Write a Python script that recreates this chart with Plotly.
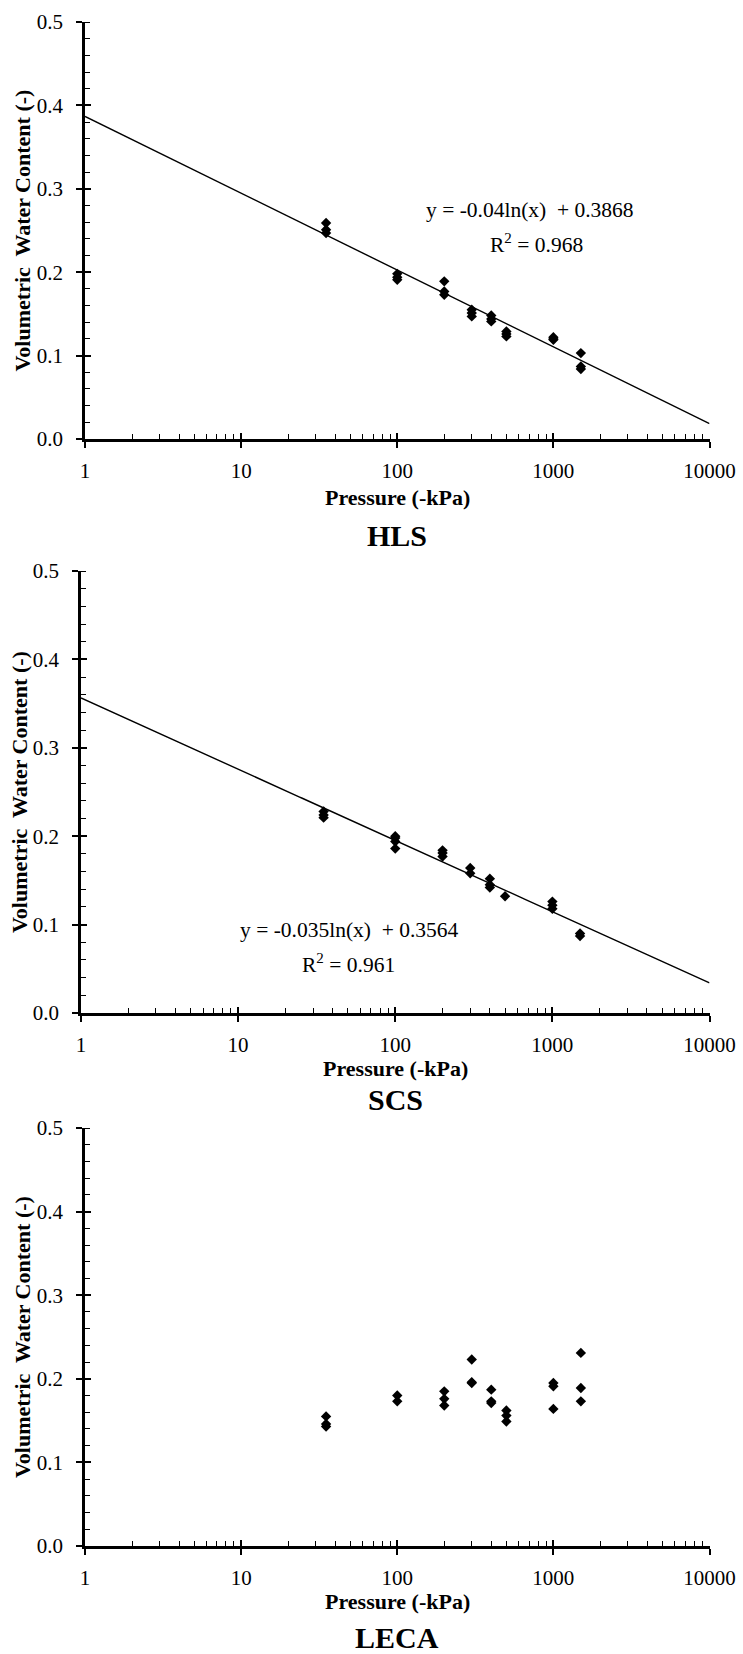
import numpy as np
import plotly.graph_objects as go

# Suction levels (kPa) and measured volumetric water content per soil
hls_kpa = [35, 35, 35, 100, 100, 100, 200, 200, 200, 300, 300, 300,
           400, 400, 400, 500, 500, 500, 1000, 1000, 1000, 1500, 1500, 1500]
hls_theta = [0.259, 0.251, 0.247, 0.198, 0.194, 0.191, 0.189, 0.177, 0.173,
             0.155, 0.151, 0.147, 0.148, 0.144, 0.141, 0.129, 0.126, 0.123,
             0.122, 0.120, 0.119, 0.103, 0.087, 0.084]

scs_kpa = [35, 35, 35, 100, 100, 100, 100, 200, 200, 200, 300, 300,
           400, 400, 400, 500, 1000, 1000, 1000, 1500, 1500]
scs_theta = [0.228, 0.224, 0.221, 0.200, 0.198, 0.194, 0.186, 0.184, 0.181,
             0.177, 0.164, 0.158, 0.152, 0.145, 0.142, 0.132, 0.126, 0.122,
             0.118, 0.090, 0.087]

leca_kpa = [35, 35, 35, 100, 100, 200, 200, 200, 300, 300, 300,
            400, 400, 400, 500, 500, 500, 1000, 1000, 1000, 1500, 1500, 1500]
leca_theta = [0.155, 0.146, 0.143, 0.180, 0.173, 0.185, 0.176, 0.168,
              0.223, 0.196, 0.195, 0.187, 0.173, 0.171, 0.162, 0.156, 0.149,
              0.195, 0.191, 0.164, 0.231, 0.189, 0.173]

# Logarithmic fits: theta = a*ln(x) + b, with R^2
hls_fit = (-0.04, 0.3868, 0.968)
scs_fit = (-0.035, 0.3564, 0.961)

x_major = [1, 10, 100, 1000, 10000]
x_major_text = ["1", "10", "100", "1000", "10000"]
x_minor = [m * 10 ** d for d in range(4) for m in range(2, 10)]

W, H = 743, 1654
SERIF = "Liberation Serif"
BLACK = "#000000"

# panel pixel boxes: (left, right, top, bottom)
panels = [
    dict(box=(85, 709.5, 22, 439), name="HLS", x=hls_kpa, y=hls_theta, fit=hls_fit,
         eq_xy=(530, 210), r2_xy=(536, 243), xtitle_y=498, name_y=535, ytitle_x=22),
    dict(box=(81, 709.5, 571, 1013), name="SCS", x=scs_kpa, y=scs_theta, fit=scs_fit,
         eq_xy=(349, 930), r2_xy=(348, 963), xtitle_y=1068, name_y=1099, ytitle_x=19),
    dict(box=(85, 709.5, 1128, 1546), name="LECA", x=leca_kpa, y=leca_theta, fit=None,
         eq_xy=None, r2_xy=None, xtitle_y=1601, name_y=1637, ytitle_x=22),
]


def px_x(p):
    return p / W


def px_y(p):
    return 1 - p / H


fig = go.Figure()
layout = dict(
    template="none",
    width=W, height=H, margin=dict(l=0, r=0, t=0, b=0, autoexpand=False),
    paper_bgcolor="white", plot_bgcolor="white", showlegend=False,
    font=dict(family=SERIF, color=BLACK, size=21),
)
annotations = []
fit_x = np.logspace(0, 4, 300)

for i, p in enumerate(panels):
    n = i + 1
    ov = i + 4
    xs = "" if n == 1 else str(n)
    ys = "" if n == 1 else str(n)
    left, right, top, bottom = p["box"]
    xdom = [px_x(left), px_x(right)]
    ydom = [px_y(bottom), px_y(top)]

    if p["fit"] is not None:
        a, b, _ = p["fit"]
        fig.add_trace(go.Scatter(
            x=fit_x, y=a * np.log(fit_x) + b, mode="lines",
            line=dict(color=BLACK, width=1.4), hoverinfo="skip",
            xaxis="x" + xs, yaxis="y" + ys))
    fig.add_trace(go.Scatter(
        x=p["x"], y=p["y"], mode="markers",
        marker=dict(symbol="diamond", size=8, color=BLACK),
        xaxis="x" + xs, yaxis="y" + ys))
    # invisible point so the overlay axes (inner half of major ticks) are drawn
    fig.add_trace(go.Scatter(
        x=[1], y=[0], mode="markers", marker=dict(opacity=0),
        hoverinfo="skip", xaxis="x" + str(ov), yaxis="y" + str(ov)))

    layout["xaxis" + xs] = dict(
        domain=xdom, anchor="y" + ys, type="log", range=[0, 4], automargin=False,
        tickmode="array", tickvals=x_major, ticktext=x_major_text,
        ticks="outside", ticklen=6, tickwidth=1.5, tickcolor=BLACK,
        showline=True, linewidth=2.5, linecolor=BLACK,
        showgrid=False, zeroline=False, ticklabelstandoff=5,
        tickfont=dict(family=SERIF, size=21, color=BLACK),
        minor=dict(tickmode="array", tickvals=x_minor, ticks="inside",
                   ticklen=5, tickwidth=1.2, tickcolor=BLACK, showgrid=False),
    )
    layout["yaxis" + ys] = dict(
        domain=ydom, anchor="x" + xs, range=[0, 0.5], automargin=False,
        tickmode="linear", tick0=0, dtick=0.1, tickformat=".1f",
        ticks="outside", ticklen=6, tickwidth=1.5, tickcolor=BLACK,
        showline=True, linewidth=2.5, linecolor=BLACK,
        showgrid=False, zeroline=False, ticklabelstandoff=9,
        tickfont=dict(family=SERIF, size=21, color=BLACK),
        minor=dict(tickmode="linear", tick0=0, dtick=0.02, ticks="inside",
                   ticklen=5, tickwidth=1.2, tickcolor=BLACK, showgrid=False),
    )
    layout["xaxis" + str(ov)] = dict(
        domain=xdom, anchor="y" + str(ov), overlaying="x" + xs, type="log",
        range=[0, 4], automargin=False, tickmode="array", tickvals=x_major,
        ticks="inside", ticklen=6, tickwidth=1.5, tickcolor=BLACK,
        showticklabels=False, showline=False, showgrid=False, zeroline=False,
    )
    layout["yaxis" + str(ov)] = dict(
        domain=ydom, anchor="x" + str(ov), overlaying="y" + ys, range=[0, 0.5],
        automargin=False, tickmode="linear", tick0=0, dtick=0.1,
        ticks="inside", ticklen=6, tickwidth=1.5, tickcolor=BLACK,
        showticklabels=False, showline=False, showgrid=False, zeroline=False,
    )

    cx = (left + right) / 2
    annotations.append(dict(
        x=px_x(p["ytitle_x"]), y=px_y((top + bottom) / 2), xref="paper", yref="paper",
        text="<b>Volumetric\u00a0 Water Content (-)</b>", textangle=-90,
        showarrow=False, font=dict(family=SERIF, size=22, color=BLACK),
        xanchor="center", yanchor="middle"))
    annotations.append(dict(
        x=px_x(cx), y=px_y(p["xtitle_y"]), xref="paper", yref="paper",
        text="<b>Pressure (-kPa)</b>", showarrow=False,
        font=dict(family=SERIF, size=22, color=BLACK),
        xanchor="center", yanchor="middle"))
    annotations.append(dict(
        x=px_x(cx), y=px_y(p["name_y"]), xref="paper", yref="paper",
        text="<b>%s</b>" % p["name"], showarrow=False,
        font=dict(family=SERIF, size=30, color=BLACK),
        xanchor="center", yanchor="middle"))
    if p["fit"] is not None:
        a, b, r2 = p["fit"]
        annotations.append(dict(
            x=px_x(p["eq_xy"][0]), y=px_y(p["eq_xy"][1]), xref="paper", yref="paper",
            text="y = %gln(x)\u00a0 + %g" % (a, b), showarrow=False,
            font=dict(family=SERIF, size=21.5, color=BLACK),
            xanchor="center", yanchor="middle"))
        annotations.append(dict(
            x=px_x(p["r2_xy"][0]), y=px_y(p["r2_xy"][1]), xref="paper", yref="paper",
            text="R<sup>2</sup> = %.3f" % r2, showarrow=False,
            font=dict(family=SERIF, size=21.5, color=BLACK),
            xanchor="center", yanchor="middle"))

layout["annotations"] = annotations
fig.update_layout(**layout)
fig.write_html("out.html")
